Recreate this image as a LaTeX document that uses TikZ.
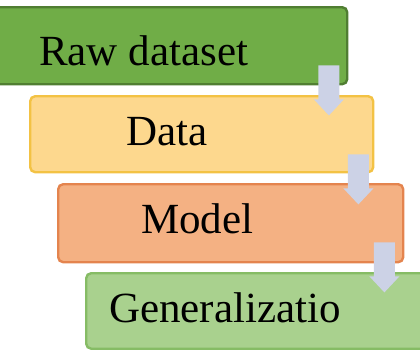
\documentclass[tikz,border=0pt]{standalone}
\usepackage{fontspec}
\setmainfont{Liberation Serif}
\usetikzlibrary{positioning,calc}
\definecolor{rawgreen}{HTML}{70AD47}
\definecolor{rawedge}{HTML}{507E32}
\definecolor{datafill}{HTML}{FDD88E}
\definecolor{dataedge}{HTML}{F3C244}
\definecolor{modelfill}{HTML}{F4B183}
\definecolor{modeledge}{HTML}{E4844E}
\definecolor{genfill}{HTML}{A9D18E}
\definecolor{genedge}{HTML}{86BC65}
\definecolor{arrowgrey}{HTML}{CCD2E6}

\begin{document}
\begin{tikzpicture}[x=1pt,y=-1pt,
    stage/.style={rounded corners=5pt,line width=2.4pt,anchor=north west,
      inner sep=0pt},
    stagetext/.style={anchor=base west,inner sep=0pt,
      font=\fontsize{43}{48}\selectfont},
    downarrow/.style={fill=arrowgrey,draw=none}]
    \useasboundingbox (0,0) rectangle (420,349);
    \clip (0,0) rectangle (420,349);
    % boxes
      \node[stage,fill=rawgreen,draw=rawedge,minimum width=356pt,minimum height=77pt] (raw) at (-10,6) {};
      \node[stage,fill=datafill,draw=dataedge,minimum width=343pt,minimum height=76pt] (data) at (29,95) {};
      \node[stage,fill=modelfill,draw=modeledge,minimum width=345pt,minimum height=78pt] (model) at (57,183) {};
      \node[stage,fill=genfill,draw=genedge,minimum width=350pt,minimum height=75.5pt] (gen) at (85,272) {};
    % texts
      \node[stagetext] (t1) at (39,65) {Raw dataset};
      \node[stagetext] (t2) at (126,145) {Data};
      \node[stagetext] (t3) at (141,233) {Model};
      \node[stagetext] (t4) at (109,322) {Generalizatio};
    % arrows
      \coordinate (a1) at ($(raw.south east)+(-19.5,-20)$);
      \coordinate (a2) at ($(data.south east)+(-16,-19)$);
      \coordinate (a3) at ($(model.south east)+(-20,-21)$);
      \foreach \a in {a1,a2,a3}
        \fill[downarrow] (\a) +(-10.5,0) -- +(10.5,0) -- +(10.5,34) -- +(15,34)
          -- +(0,50) -- +(-15,34) -- +(-10.5,34) -- cycle;
    \end{tikzpicture}
\end{document}
